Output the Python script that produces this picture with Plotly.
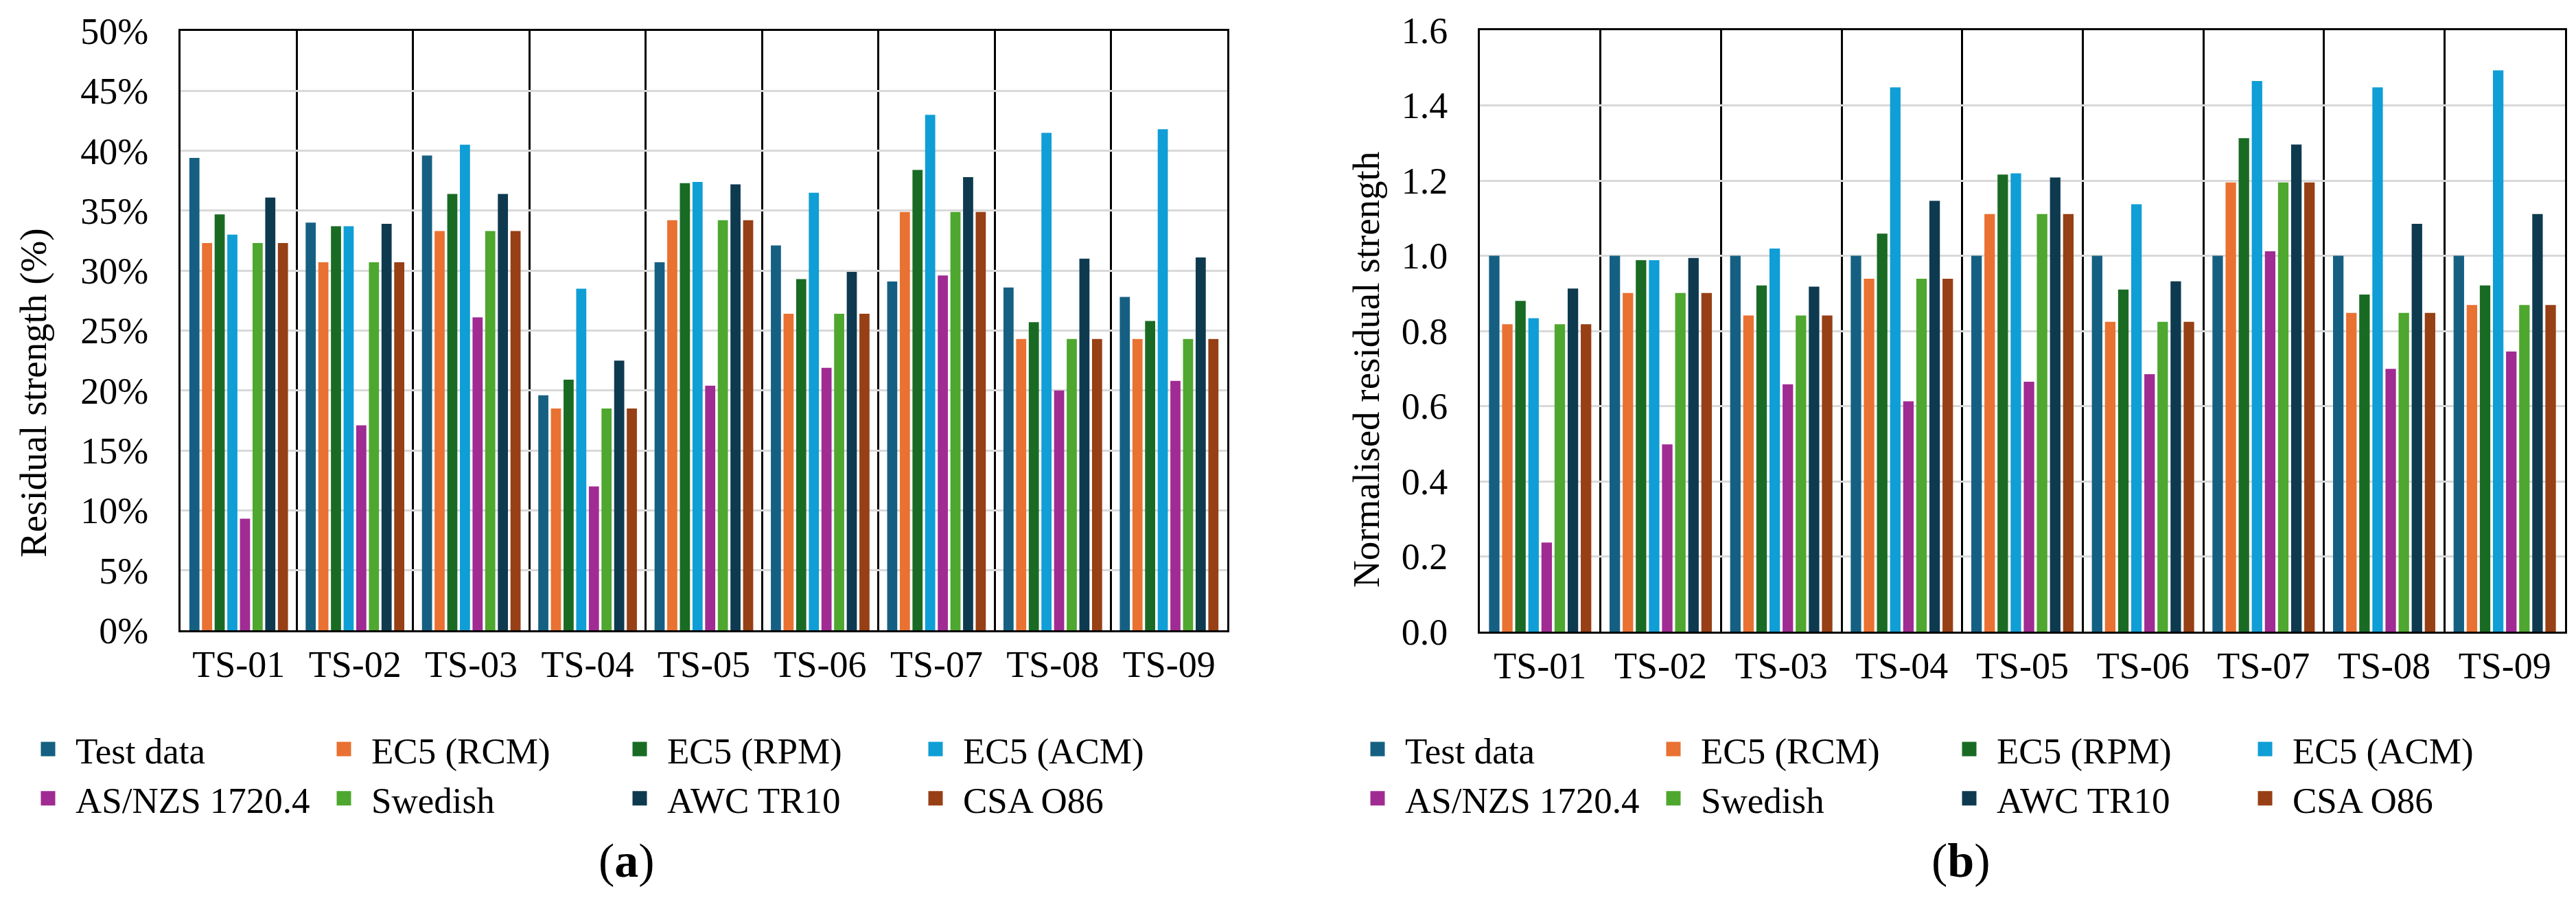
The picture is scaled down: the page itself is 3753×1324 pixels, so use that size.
import plotly.graph_objects as go

W, H = 3753, 1324

categories = ["TS-01", "TS-02", "TS-03", "TS-04", "TS-05", "TS-06", "TS-07", "TS-08", "TS-09"]
series_names = ["Test data", "EC5 (RCM)", "EC5 (RPM)", "EC5 (ACM)",
                "AS/NZS 1720.4", "Swedish", "AWC TR10", "CSA O86"]
colors = ["#156082", "#E97132", "#196B24", "#0F9ED5",
          "#A02B93", "#4EA72E", "#0E3A50", "#973F15"]
legend_groups = ["g1", "g2", "g3", "g4", "g1", "g2", "g3", "g4"]

# (a) Residual strength (%)
res_test = [39.4, 34.0, 39.6, 19.6, 30.7, 32.1, 29.1, 28.6, 27.8]
res_rcm = [32.3, 30.7, 33.3, 18.5, 34.2, 26.4, 34.9, 24.3, 24.3]
res_rpm = [34.7, 33.7, 36.4, 20.9, 37.3, 29.3, 38.4, 25.7, 25.8]
res_acm = [33.0, 33.7, 40.5, 28.5, 37.4, 36.5, 43.0, 41.5, 41.8]
res_asnzs = [9.3, 17.1, 26.1, 12.0, 20.4, 21.9, 29.6, 20.0, 20.8]
res_swe = [32.3, 30.7, 33.3, 18.5, 34.2, 26.4, 34.9, 24.3, 24.3]
res_awc = [36.1, 33.9, 36.4, 22.5, 37.2, 29.9, 37.8, 31.0, 31.1]
res_csa = [32.3, 30.7, 33.3, 18.5, 34.2, 26.4, 34.9, 24.3, 24.3]

# (b) Normalised residual strength
nrm_test = [1.00, 1.00, 1.00, 1.00, 1.00, 1.00, 1.00, 1.00, 1.00]
nrm_rcm = [0.818, 0.901, 0.841, 0.939, 1.111, 0.824, 1.195, 0.848, 0.869]
nrm_rpm = [0.880, 0.988, 0.921, 1.059, 1.216, 0.910, 1.313, 0.897, 0.921]
nrm_acm = [0.834, 0.988, 1.019, 1.448, 1.219, 1.137, 1.465, 1.448, 1.493]
nrm_asnzs = [0.237, 0.498, 0.658, 0.613, 0.665, 0.685, 1.012, 0.699, 0.745]
nrm_swe = [0.818, 0.901, 0.841, 0.939, 1.111, 0.824, 1.195, 0.848, 0.869]
nrm_awc = [0.913, 0.994, 0.918, 1.146, 1.208, 0.932, 1.296, 1.085, 1.111]
nrm_csa = [0.818, 0.901, 0.841, 0.939, 1.111, 0.824, 1.195, 0.848, 0.869]

res_series = [res_test, res_rcm, res_rpm, res_acm, res_asnzs, res_swe, res_awc, res_csa]
nrm_series = [nrm_test, nrm_rcm, nrm_rpm, nrm_acm, nrm_asnzs, nrm_swe, nrm_awc, nrm_csa]

FONT = "Liberation Serif, Times New Roman, serif"
TICK_FS = 54
LEG_FS = 53

fig = go.Figure()

for i, name in enumerate(series_names):
    fig.add_trace(go.Bar(x=categories, y=res_series[i], name=name,
                         marker=dict(color=colors[i], line=dict(width=0)),
                         xaxis="x", yaxis="y", showlegend=False))
    fig.add_trace(go.Bar(x=categories, y=nrm_series[i], name=name,
                         marker=dict(color=colors[i], line=dict(width=0)),
                         xaxis="x2", yaxis="y2", showlegend=False))

# legend entries (no data)
for leg in ["legend", "legend2"]:
    for i, name in enumerate(series_names):
        fig.add_trace(go.Scatter(x=[None], y=[None], mode="markers", name=name,
                                 legendgroup=legend_groups[i] + leg,
                                 marker=dict(symbol="square", size=16, color=colors[i],
                                             line=dict(width=5, color=colors[i])),
                                 xaxis="x" if leg == "legend" else "x2",
                                 yaxis="y" if leg == "legend" else "y2",
                                 legend=leg, showlegend=True))

def px(v):
    return v / W

def py(v):
    return 1 - v / H

xcommon = dict(type="category", tickson="boundaries", showgrid=True, gridcolor="black",
               gridwidth=2.5, showline=True, linecolor="black", linewidth=3, mirror=True,
               ticks="outside", ticklen=34, tickcolor="rgba(0,0,0,0)",
               tickfont=dict(family=FONT, size=TICK_FS, color="black"),
               automargin=False, zeroline=False)
ycommon = dict(showgrid=True, gridcolor="#D9D9D9", gridwidth=3,
               showline=True, linecolor="black", linewidth=3, mirror=True,
               ticks="outside", ticklen=33, tickcolor="rgba(0,0,0,0)",
               tickfont=dict(family=FONT, size=TICK_FS, color="black"),
               automargin=False, zeroline=False)

legcommon = dict(orientation="h", traceorder="grouped", itemwidth=70,
                 font=dict(family=FONT, size=LEG_FS, color="black"),
                 entrywidth=346, entrywidthmode="pixels",
                 bgcolor="rgba(0,0,0,0)", borderwidth=0,
                 xanchor="left", yanchor="top", itemclick=False, itemdoubleclick=False)

ann = dict(xref="paper", yref="paper", showarrow=False, xanchor="center", yanchor="middle")

fig.update_layout(
    width=W, height=H,
    margin=dict(l=0, r=0, t=0, b=0),
    paper_bgcolor="white", plot_bgcolor="white",
    barmode="group", bargap=0.13, bargroupgap=0.2,
    xaxis=dict(domain=[px(263), px(1788)], anchor="y", **xcommon),
    yaxis=dict(domain=[py(918), py(45)], anchor="x", range=[0, 50], dtick=5,
               ticksuffix="%", **ycommon),
    xaxis2=dict(domain=[px(2156), px(3737)], anchor="y2", **xcommon),
    yaxis2=dict(domain=[py(920), py(44)], anchor="x2", range=[0, 1.6], dtick=0.2,
                tickformat=".1f", **ycommon),
    legend=dict(x=px(30), y=py(1050), **legcommon),
    legend2=dict(x=px(1967), y=py(1050), **legcommon),
    annotations=[
        dict(text="Residual strength (%)", textangle=-90, x=px(48), y=py(572),
             font=dict(family=FONT, size=55, color="black"), **ann),
        dict(text="Normalised residual strength", textangle=-90, x=px(1990), y=py(539),
             font=dict(family=FONT, size=55, color="black"), **ann),
        dict(text="(<b>a</b>)", x=px(913), y=py(1253),
             font=dict(family=FONT, size=70, color="black"), **ann),
        dict(text="(<b>b</b>)", x=px(2857), y=py(1253),
             font=dict(family=FONT, size=70, color="black"), **ann),
    ],
)

fig.write_html("out.html")
